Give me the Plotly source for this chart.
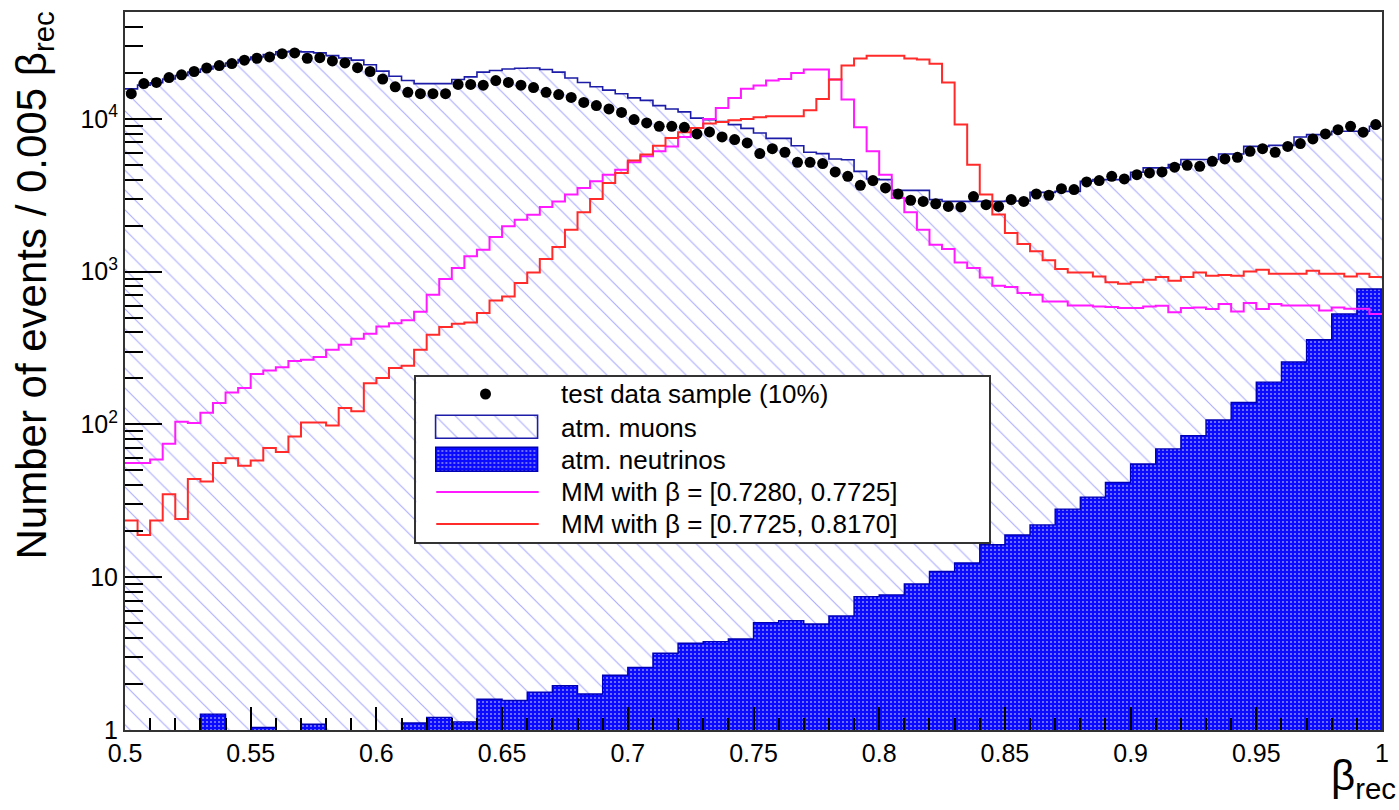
import numpy as np
import plotly.graph_objects as go

# ---- binning: 100 bins of 0.005 in beta_rec ----
BIN_LO, BIN_HI, BIN_W = 0.5, 1.0, 0.005

# test data sample (10%), counts per bin
data_counts = [
    14600, 17000, 17300, 18600, 19400, 20400, 21500, 22300, 23000, 24200,
    24900, 25400, 26700, 27000, 24900, 25100, 23900, 23200, 21600, 20400,
    18200, 16200, 14900, 14600, 14600, 14600, 16800, 16800, 16600, 17800,
    17300, 16600, 16000, 14900, 14400, 13800, 12800, 12200, 11600, 11000,
    9880, 9400, 8930, 8930, 8790, 7960, 8200, 7610, 7310, 6950,
    5920, 6380, 6040, 5190, 5190, 5090, 4490, 4200, 3670, 3940,
    3530, 3220, 2930, 2880, 2780, 2670, 2650, 3100, 2740, 2670,
    2960, 2880, 3220, 3160, 3490, 3440, 3860, 3940, 4200, 4040,
    4310, 4420, 4490, 4820, 4960, 4890, 5270, 5460, 5600, 6130,
    6380, 6040, 6600, 6880, 7380, 7960, 8490, 8930, 8170, 9160,
]

# atm. muons (MC)
muon_counts = [
    15700, 16600, 17200, 18200, 19200, 20200, 21200, 22100, 23200, 24400,
    25400, 26300, 27400, 27700, 27400, 27000, 25900, 25000, 24200, 22600,
    20500, 19000, 17800, 17000, 17000, 17000, 18100, 18800, 20200, 20700,
    21200, 21400, 21500, 21000, 20200, 18500, 17300, 16200, 15400, 14600,
    13700, 13200, 12200, 11600, 11100, 10100, 9880, 9590, 9160, 8660,
    8070, 7450, 7450, 6670, 6040, 5920, 5460, 5400, 4530, 4040,
    4000, 3400, 3400, 3400, 2960, 2880, 2880, 2880, 2880, 2880,
    2900, 2900, 3300, 3300, 3350, 3350, 3900, 4000, 4000, 4000,
    4470, 4770, 4770, 5010, 5410, 5410, 5410, 5890, 5890, 6600,
    6600, 6700, 6700, 7610, 7880, 7880, 8290, 8290, 8290, 8930,
]

# atm. neutrinos (MC); 0 = empty bin
nu_counts = [
    0, 0, 0, 0, 0, 0, 1.27, 1.27, 0, 0,
    1.04, 1.04, 0, 0, 1.09, 1.09, 0, 0, 0, 0,
    0, 0, 1.11, 1.11, 1.21, 1.21, 1.13, 1.13, 1.59, 1.59,
    1.56, 1.56, 1.77, 1.77, 1.95, 1.95, 1.72, 1.72, 2.28, 2.28,
    2.57, 2.57, 3.18, 3.18, 3.70, 3.70, 3.79, 3.79, 3.94, 3.94,
    5.04, 5.04, 5.20, 5.20, 4.94, 4.94, 5.58, 5.58, 7.46, 7.46,
    7.66, 7.66, 9.04, 9.04, 10.9, 10.9, 12.4, 12.4, 16.3, 16.3,
    18.9, 18.9, 22.0, 22.0, 27.9, 27.9, 33.4, 33.4, 41.7, 41.7,
    55.0, 55.0, 69.2, 69.2, 84.4, 84.4, 107, 107, 139, 139,
    189, 189, 256, 256, 358, 358, 528, 528, 769, 769,
]

# magnetic monopoles, beta in [0.7280, 0.7725]
mm1_counts = [
    55.8, 55.8, 59, 74.6, 104, 102, 119, 138, 162, 173,
    214, 225, 237, 260, 265, 276, 308, 332, 364, 392,
    438, 460, 480, 546, 706, 894, 1055, 1259, 1390, 1684,
    1977, 2187, 2358, 2650, 2880, 3190, 3530, 3900, 4310, 4640,
    5190, 5680, 6130, 6600, 7610, 8720, 9980, 11780, 13700, 15700,
    16500, 17800, 18240, 19950, 21000, 21000, 18070, 13360, 8790, 6130,
    4310, 3030, 2443, 1880, 1500, 1406, 1148, 1055, 916, 809,
    793, 724, 706, 638, 638, 601, 601, 592, 586, 577,
    577, 592, 597, 541, 577, 583, 569, 614, 549, 623,
    569, 614, 601, 601, 601, 557, 583, 572, 572, 528,
]

# magnetic monopoles, beta in [0.7725, 0.8170]
mm2_counts = [
    23.5, 18.9, 23.5, 34.9, 24, 44, 42.3, 55.8, 60.1, 53.6,
    58, 70, 65.9, 83.4, 103, 103, 98.4, 128, 122, 186,
    201, 234, 242, 308, 386, 434, 456, 465, 535, 647,
    688, 842, 988, 1209, 1449, 1880, 2443, 2986, 3800, 4424,
    5326, 5830, 6670, 7500, 8170, 8720, 9300, 9540, 9780, 9980,
    10230, 10390, 10390, 10390, 11370, 13480, 18070, 22300, 24800, 25900,
    25900, 25900, 24800, 24400, 22900, 17300, 9160, 5010, 3190, 2360,
    1790, 1517, 1357, 1186, 1040, 988, 988, 930, 851, 834,
    851, 885, 922, 872, 922, 988, 940, 950, 940, 1000,
    1029, 969, 969, 969, 1014, 969, 969, 930, 969, 922,
]

x_tick_vals = [0.5, 0.55, 0.6, 0.65, 0.7, 0.75, 0.8, 0.85, 0.9, 0.95, 1.0]
x_tick_text = ["0.5", "0.55", "0.6", "0.65", "0.7", "0.75", "0.8", "0.85", "0.9", "0.95", "1"]
y_tick_vals = [1, 10, 100, 1000, 10000]
y_tick_text = ["1", "10", "10<sup>2</sup>", "10<sup>3</sup>", "10<sup>4</sup>"]
Y_MAX = 5e4

legend_labels = [
    "test data sample (10%)",
    "atm. muons",
    "atm. neutrinos",
    "MM with \u03b2 = [0.7280, 0.7725]",
    "MM with \u03b2 = [0.7725, 0.8170]",
]

# ---- styles ----
FONT = "Liberation Sans, Arial, Helvetica, sans-serif"
NAVY = "#1c1ca8"
HATCH = "#5c5cff"
NU_BLUE = "#0a0aff"
NU_EDGE = "#0000b4"
MAGENTA = "#ff1aff"
RED = "#ff2a2a"
FRAME = "#333333"

edges = BIN_LO + BIN_W * np.arange(len(data_counts) + 1)
centers = edges[:-1] + BIN_W / 2


def step_y(vals):
    vals = list(vals)
    return vals + [vals[-1]]


# hatch: thin light-blue diagonal lines on white
muon_pattern = dict(shape="\\", fgcolor=HATCH, bgcolor="white", fillmode="overlay",
                    size=14, solidity=0.085)
# neutrinos: saturated blue with a fine grid of light dots
nu_pattern = dict(shape=".", fgcolor="white", bgcolor=NU_BLUE, fillmode="overlay",
                  size=4, solidity=0.22)

fig = go.Figure()

# atm. muons: hatched fill + outline
fig.add_trace(go.Bar(
    x=centers, y=muon_counts, width=BIN_W,
    marker=dict(color="white", pattern=muon_pattern, line=dict(width=0)),
    hoverinfo="skip",
))
fig.add_trace(go.Scatter(
    x=edges, y=step_y(muon_counts), mode="lines",
    line=dict(color=NAVY, width=1.6, shape="hv"), hoverinfo="skip",
))

# atm. neutrinos: dense blue fill (slightly widened bars to avoid seams) + outline
nu_plot = [v if v > 0 else None for v in nu_counts]
fig.add_trace(go.Bar(
    x=centers, y=nu_plot, width=BIN_W * 1.04,
    marker=dict(color=NU_BLUE, pattern=nu_pattern, line=dict(width=0)),
    hoverinfo="skip",
))
nu_edge = [v if v > 0 else 1e-3 for v in nu_counts]
fig.add_trace(go.Scatter(
    x=edges, y=step_y(nu_edge), mode="lines",
    line=dict(color=NU_EDGE, width=1.4, shape="hv"), hoverinfo="skip",
))

# monopole signal histograms
fig.add_trace(go.Scatter(
    x=edges, y=step_y(mm1_counts), mode="lines",
    line=dict(color=MAGENTA, width=2, shape="hv"),
))
fig.add_trace(go.Scatter(
    x=edges, y=step_y(mm2_counts), mode="lines",
    line=dict(color=RED, width=2, shape="hv"),
))

# data points
fig.add_trace(go.Scatter(
    x=centers, y=data_counts, mode="markers",
    marker=dict(color="black", size=11, line=dict(width=0)),
))

# ---- legend box, drawn in an inset coordinate frame (pixel units) ----
LEG_L, LEG_R, LEG_T, LEG_B = 418, 994, 377, 542   # figure pixels
W, H = 1399, 810
M_L, M_R, M_T, M_B = 125, 10, 12, 80
PW, PH = W - M_L - M_R, H - M_T - M_B
leg_w, leg_h = LEG_R - LEG_L, LEG_B - LEG_T

row_y = [LEG_B - y for y in (394, 427.5, 459.5, 492, 524)]
sym_l, sym_r = 20, 123
sym_c = (sym_l + sym_r) / 2
text_x = 143

fig.add_trace(go.Scatter(
    x=[sym_c - 2], y=[row_y[0]], mode="markers", xaxis="x2", yaxis="y2",
    marker=dict(color="black", size=11),
))
fig.add_trace(go.Bar(
    x=[sym_c], y=[23], base=[row_y[1] - 11.5], width=[sym_r - sym_l],
    xaxis="x2", yaxis="y2",
    marker=dict(color="white", pattern=muon_pattern, line=dict(color=NAVY, width=1.6)),
))
fig.add_trace(go.Bar(
    x=[sym_c], y=[24], base=[row_y[2] - 12], width=[sym_r - sym_l],
    xaxis="x2", yaxis="y2",
    marker=dict(color=NU_BLUE, pattern=nu_pattern, line=dict(color=NU_EDGE, width=1.4)),
))
for yy, col in ((row_y[3], MAGENTA), (row_y[4], RED)):
    fig.add_trace(go.Scatter(
        x=[sym_l, sym_r], y=[yy, yy], mode="lines", xaxis="x2", yaxis="y2",
        line=dict(color=col, width=2),
    ))

for label, yy in zip(legend_labels, row_y):
    fig.add_annotation(
        x=text_x, y=yy, xref="x2", yref="y2", text=label, showarrow=False,
        xanchor="left", yanchor="middle",
        font=dict(family=FONT, size=26, color="black"),
    )

# axis titles
fig.add_annotation(
    x=(33 - M_L) / PW, y=(H - M_B - 10) / PH, xref="paper", yref="paper",
    text="Number of events / 0.005 \u03b2<sub>rec</sub>", textangle=-90,
    showarrow=False, xanchor="center", yanchor="top",
    font=dict(family=FONT, size=42, color="black"),
)
fig.add_annotation(
    x=(1405 - M_L) / PW, y=-(750 - (H - M_B)) / PH, xref="paper", yref="paper",
    text="\u03b2<sub>rec</sub>", showarrow=False, xanchor="right", yanchor="top",
    font=dict(family=FONT, size=42, color="black"),
)

y_minor = [m * 10 ** e for e in range(0, 5) for m in range(2, 10) if m * 10 ** e <= Y_MAX]

fig.update_layout(
    width=W, height=H,
    margin=dict(l=M_L, r=M_R, t=M_T, b=M_B, pad=0),
    paper_bgcolor="white", plot_bgcolor="white",
    showlegend=False, barmode="overlay", bargap=0,
    font=dict(family=FONT, size=25, color="black"),
    xaxis=dict(
        range=[BIN_LO, BIN_HI], tickmode="array", tickvals=x_tick_vals, ticktext=x_tick_text,
        ticks="inside", ticklen=23, tickwidth=1.5, tickcolor="black",
        minor=dict(dtick=0.01, tick0=BIN_LO, ticks="inside", ticklen=12,
                   tickwidth=1.5, tickcolor="black", showgrid=False),
        showline=True, linecolor=FRAME, linewidth=2, mirror=True,
        showgrid=False, zeroline=False, tickfont=dict(size=25),
    ),
    yaxis=dict(
        type="log", range=[0, np.log10(Y_MAX)],
        tickmode="array", tickvals=y_tick_vals, ticktext=y_tick_text,
        ticks="inside", ticklen=37, tickwidth=1.5, tickcolor="black",
        minor=dict(tickmode="array", tickvals=y_minor, ticks="inside", ticklen=18,
                   tickwidth=1.5, tickcolor="black", showgrid=False),
        showline=True, linecolor=FRAME, linewidth=2, mirror=True,
        showgrid=False, zeroline=False, tickfont=dict(size=25),
    ),
    xaxis2=dict(
        domain=[(LEG_L - M_L) / PW, (LEG_R - M_L) / PW], anchor="y2",
        range=[0, leg_w], showline=True, linecolor=FRAME, linewidth=2, mirror=True,
        showticklabels=False, ticks="", showgrid=False, zeroline=False, fixedrange=True,
    ),
    yaxis2=dict(
        domain=[(H - M_B - LEG_B) / PH, (H - M_B - LEG_T) / PH], anchor="x2",
        range=[0, leg_h], showline=True, linecolor=FRAME, linewidth=2, mirror=True,
        showticklabels=False, ticks="", showgrid=False, zeroline=False, fixedrange=True,
    ),
)

fig.write_html("out.html")
